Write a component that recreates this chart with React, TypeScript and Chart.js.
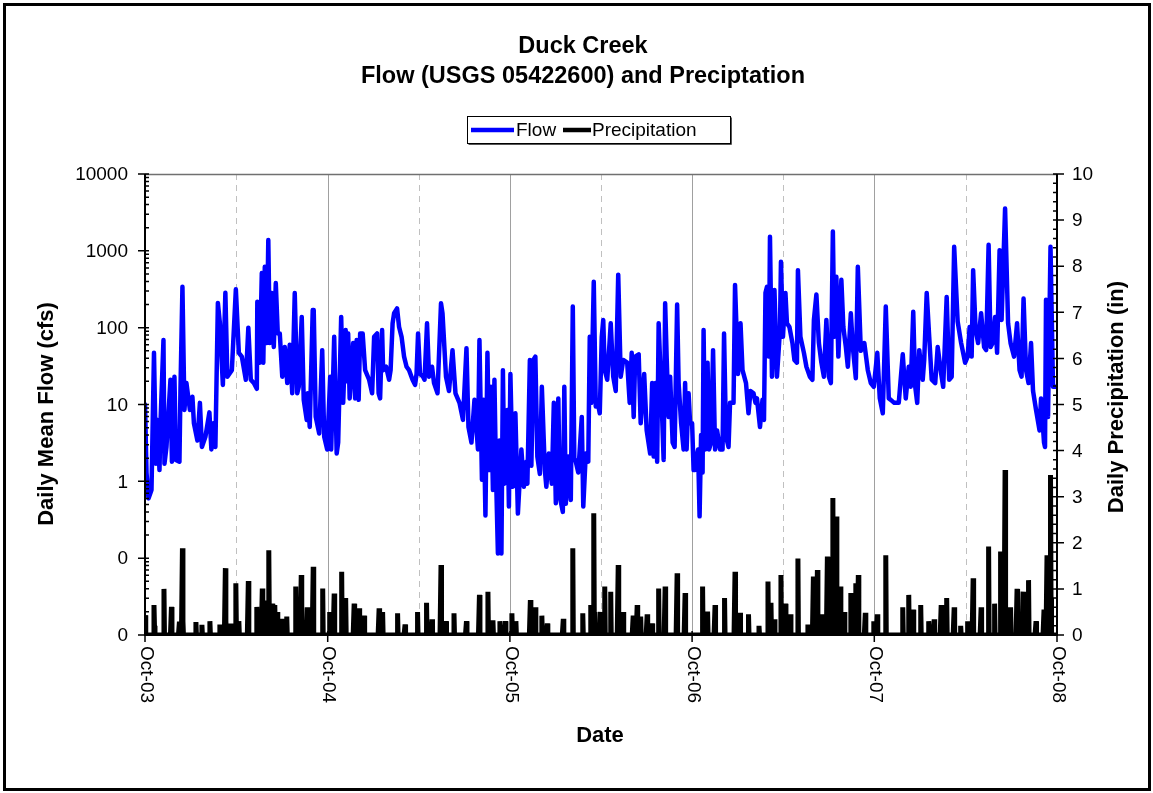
import React, { useEffect, useRef } from 'react';
import { Chart, registerables } from 'chart.js';

Chart.register(...registerables);

const W = 1153;
const H = 793;
const PLOT = { left: 145, right: 1057, top: 174, bottom: 635 };
const FONT = '"Liberation Sans", Arial, sans-serif';

const titleLines = ['Duck Creek', 'Flow (USGS 05422600) and Preciptation'];
const legendLabels = ['Flow', 'Precipitation'];
const xTitle = 'Date';
const yFlowTitle = 'Daily Mean Flow (cfs)';
const yPrecipTitle = 'Daily Precipitation (in)';

// x = days since 1 Oct 2003
const totalDays = 1827;
const yearTickDays = [0, 366, 731, 1096, 1461, 1827];
const yearTickLabels = ['Oct-03', 'Oct-04', 'Oct-05', 'Oct-06', 'Oct-07', 'Oct-08'];
const midYearDays = [183, 548, 913, 1278, 1644];
const flowTickValues = [0.01, 0.1, 1, 10, 100, 1000, 10000];
const flowTickLabels = ['0', '0', '1', '10', '100', '1000', '10000'];
const precipTickValues = [0, 1, 2, 3, 4, 5, 6, 7, 8, 9, 10];

// Daily mean flow (cfs): [day, value]
const flowWY2004: [number, number][] = [
  [0, 10], [3, 1.3], [7, 0.6], [13, 0.77], [18, 47], [22, 1.7], [25, 6.3], [29, 1.4], [31, 5.7], [37, 69],
  [39, 1.7], [43, 2.8], [51, 21], [54, 1.8], [59, 23], [62, 1.9], [69, 1.8], [71, 15], [75, 340], [79, 8.5],
  [83, 19], [90, 8.5], [95, 12.6], [98, 5.7], [105, 3.4], [110, 10.5], [114, 2.8], [121, 3.8], [129, 7.9], [133, 2.6],
  [137, 5.7], [141, 2.8], [146, 210], [150, 115], [156, 18], [161, 285], [165, 23], [174, 28], [182, 316], [188, 47],
  [194, 42], [202, 21], [207, 100], [212, 21], [218, 19], [224, 16], [225, 218], [230, 35], [234, 515], [237, 35],
  [240, 620], [244, 63], [247, 1380], [250, 63], [254, 283], [258, 56], [262, 380], [266, 84], [270, 84], [275, 23],
  [280, 56], [285, 19], [290, 60], [295, 14], [300, 283], [305, 14], [308, 17], [314, 138], [318, 11.5], [324, 6.3],
  [326, 14], [330, 5.1], [336, 170], [338, 170], [342, 6.9], [349, 4.2], [355, 51], [359, 3.8], [365, 2.6],
];
const flowWY2005: [number, number][] = [
  [371, 23], [373, 2.6], [379, 76], [384, 2.3], [387, 3.2], [393, 138], [397, 10.5], [402, 93], [405, 20], [407, 84],
  [410, 12], [417, 63], [421, 12], [424, 69], [428, 11.5], [431, 84], [436, 84], [441, 28], [449, 21], [455, 14],
  [459, 76], [465, 84], [468, 14], [471, 12], [475, 93], [477, 28], [483, 31], [489, 21], [492, 28], [496, 114],
  [499, 154], [505, 178], [509, 102], [514, 76], [519, 42], [524, 31], [529, 28], [536, 21], [541, 18], [544, 25],
  [547, 84], [551, 25], [557, 23], [560, 21], [565, 114], [569, 23], [575, 31], [579, 19], [586, 14], [593, 208],
  [596, 154], [603, 23], [609, 15], [616, 51], [622, 14], [630, 10.5], [637, 6.3], [644, 54], [648, 5.1], [654, 3.2],
  [660, 11.5], [667, 2.6], [670, 69], [675, 1.05], [678, 11.5], [682, 0.36], [686, 47], [690, 1.4], [693, 17], [697, 0.77],
  [700, 21], [703, 1.4], [707, 0.115], [710, 3.4], [714, 0.115], [717, 28], [720, 0.93], [726, 8.5], [729, 0.47],
];
const flowWY2006: [number, number][] = [
  [732, 25], [737, 0.85], [742, 7.7], [747, 0.38], [754, 2.6], [759, 0.85], [764, 1.8], [766, 0.93], [771, 38], [774, 1.6],
  [778, 38], [782, 42], [786, 2.1], [791, 1.25], [795, 17], [801, 1.4], [804, 0.85], [809, 2.3], [815, 0.93], [819, 10.5],
  [823, 0.52], [828, 12], [831, 0.63], [837, 0.4], [840, 17], [843, 0.51], [848, 2.1], [853, 0.57], [857, 188], [860, 2.0],
  [863, 1.8], [868, 1.3], [875, 6.9], [878, 0.47], [883, 2.3], [888, 1.8], [891, 76], [894, 10.5], [899, 395], [903, 9.4],
  [906, 11.5], [911, 7.7], [915, 76], [918, 126], [921, 28], [926, 21], [933, 114], [938, 23], [943, 15], [948, 490],
  [953, 23], [958, 38], [966, 35], [971, 10.5], [975, 47], [979, 6.9], [982, 42], [989, 45], [993, 5.7], [1000, 25],
  [1005, 4.6], [1012, 2.3], [1016, 19], [1019, 2.1], [1023, 19], [1026, 1.8], [1029, 114], [1036, 6.9], [1039, 1.9], [1042, 208],
  [1045, 42], [1049, 6.9], [1052, 23], [1057, 3.2], [1061, 2.8], [1066, 200], [1069, 19], [1074, 5.7], [1079, 2.6], [1082, 19],
  [1085, 2.6], [1089, 14], [1092, 5.7],
];
const flowWY2007: [number, number][] = [
  [1096, 5.7], [1099, 1.4], [1102, 1.4], [1105, 2.1], [1108, 2.6], [1111, 0.35], [1114, 4], [1117, 1.3], [1119, 93], [1122, 2.6],
  [1127, 35], [1130, 2.6], [1134, 3.2], [1138, 51], [1142, 2.6], [1146, 4.6], [1152, 2.6], [1157, 2.6], [1160, 84], [1164, 3.8],
  [1169, 2.8], [1172, 10.5], [1179, 10.5], [1182, 360], [1188, 25], [1193, 114], [1197, 28], [1204, 19], [1209, 7.7], [1213, 15],
  [1219, 14], [1223, 10.5], [1226, 12], [1232, 5.1], [1237, 11.5], [1240, 6.3], [1243, 285], [1246, 340], [1250, 42], [1252, 1520],
  [1256, 23], [1261, 310], [1266, 23], [1272, 93], [1274, 720], [1278, 76], [1283, 283], [1286, 114], [1291, 102], [1297, 63],
  [1301, 38], [1306, 35], [1308, 560], [1313, 76], [1320, 47], [1325, 31], [1332, 23], [1337, 21], [1340, 126], [1345, 270],
  [1350, 63], [1355, 35], [1360, 23], [1365, 126], [1370, 23], [1374, 19], [1378, 1780], [1381, 76], [1385, 460], [1389, 42],
  [1395, 420], [1399, 102], [1404, 56], [1408, 31], [1414, 154], [1418, 56], [1424, 22], [1428, 620], [1434, 50], [1441, 63],
  [1448, 28], [1454, 19], [1460, 17],
];
const flowWY2008: [number, number][] = [
  [1467, 47], [1472, 12], [1478, 7.7], [1484, 188], [1490, 12], [1494, 11.5], [1501, 10.5], [1510, 10.5], [1518, 45], [1524, 12],
  [1530, 31], [1534, 17], [1539, 161], [1543, 17], [1547, 10.5], [1551, 51], [1558, 21], [1561, 38], [1566, 283], [1571, 76],
  [1576, 21], [1583, 19], [1588, 56], [1595, 25], [1599, 17], [1606, 251], [1611, 21], [1616, 23], [1621, 1130], [1628, 120],
  [1635, 63], [1643, 35], [1648, 42], [1652, 102], [1656, 42], [1659, 560], [1664, 93], [1669, 63], [1675, 154], [1681, 56],
  [1685, 51], [1690, 1200], [1694, 56], [1698, 63], [1703, 138], [1707, 47], [1712, 1020], [1716, 126], [1723, 3560], [1729, 114],
  [1734, 63], [1741, 42], [1747, 114], [1752, 28], [1756, 23], [1760, 240], [1765, 28], [1770, 19], [1775, 63], [1779, 15],
  [1785, 8.5], [1792, 4.6], [1795, 12], [1801, 3.2], [1803, 2.8], [1805, 230], [1809, 6.9], [1814, 1130], [1819, 17], [1826, 17],
];

// Daily precipitation (in) on rain days: [day, value]; other days are 0
const precipWY2004: [number, number][] = [
  [0, 0.43], [1, 0.15], [18, 0.65], [19, 0.2], [38, 1.0], [53, 0.61], [69, 0.29], [75, 1.88], [76, 0.3], [102, 0.28],
  [114, 0.22], [130, 0.3], [150, 0.23], [161, 1.45], [162, 0.3], [172, 0.25], [182, 1.12], [183, 0.2], [188, 0.3], [207, 1.17],
  [224, 0.61], [235, 1.01], [240, 0.75], [248, 1.84], [249, 0.4], [250, 0.3], [255, 0.68], [260, 0.65], [265, 0.5], [273, 0.35],
  [284, 0.4], [302, 1.05], [313, 1.3], [325, 0.6], [337, 1.48], [356, 1.01],
];
const precipWY2005: [number, number][] = [
  [370, 0.5], [379, 0.9], [394, 1.37], [402, 0.8], [419, 0.68], [429, 0.58], [439, 0.42], [469, 0.58], [476, 0.5], [506, 0.47],
  [521, 0.23], [546, 0.5], [564, 0.7], [575, 0.34], [593, 1.52], [603, 0.3], [619, 0.47], [644, 0.3], [670, 0.87], [687, 0.94],
  [697, 0.32], [711, 0.3], [722, 0.3],
];
const precipWY2006: [number, number][] = [
  [735, 0.47], [743, 0.3], [772, 0.76], [782, 0.6], [795, 0.42], [806, 0.25], [838, 0.35], [857, 1.88], [877, 0.47], [893, 0.65],
  [899, 2.64], [900, 0.5], [912, 0.5], [921, 1.05], [933, 0.94], [948, 1.52], [958, 0.5], [978, 0.42], [986, 0.65], [993, 0.4],
  [1006, 0.45], [1016, 0.25], [1029, 1.01], [1042, 1.05], [1066, 1.34], [1082, 0.91],
];
const precipWY2007: [number, number][] = [
  [1117, 1.05], [1127, 0.51], [1142, 0.65], [1161, 0.8], [1182, 1.37], [1192, 0.48], [1209, 0.45], [1230, 0.2], [1248, 1.16], [1254, 0.7],
  [1261, 0.34], [1274, 1.3], [1283, 0.68], [1293, 0.45], [1308, 1.66], [1328, 0.23], [1339, 1.27], [1347, 1.41], [1355, 0.45], [1367, 1.7],
  [1378, 2.97], [1385, 2.57], [1393, 1.05], [1401, 0.5], [1414, 0.91], [1424, 1.12], [1429, 1.3], [1443, 0.48], [1460, 0.3],
];
const precipWY2008: [number, number][] = [
  [1467, 0.45], [1484, 1.73], [1518, 0.6], [1530, 0.87], [1539, 0.55], [1554, 0.65], [1570, 0.3], [1581, 0.34], [1595, 0.65], [1606, 0.8],
  [1621, 0.6], [1634, 0.2], [1648, 0.3], [1659, 1.23], [1675, 0.6], [1690, 1.92], [1702, 0.68], [1714, 1.81], [1723, 3.58], [1724, 0.5],
  [1734, 0.6], [1747, 1.0], [1759, 0.94], [1770, 1.19], [1785, 0.3], [1801, 0.55], [1807, 1.73], [1813, 1.6], [1814, 3.47], [1815, 0.8],
];

const flowSeries = [...flowWY2004, ...flowWY2005, ...flowWY2006, ...flowWY2007, ...flowWY2008];
const precipEvents = [...precipWY2004, ...precipWY2005, ...precipWY2006, ...precipWY2007, ...precipWY2008];

function buildPrecipDaily() {
  const byDay = new Map<number, number>();
  precipEvents.forEach(([d, v]) => byDay.set(d, v));
  const out: { x: number; y: number }[] = [];
  for (let d = 0; d <= totalDays; d++) out.push({ x: d, y: byDay.get(d) ?? 0 });
  return out;
}

const decorPlugin = {
  id: 'decor',
  beforeDraw(chart: any) {
    const ctx = chart.ctx as CanvasRenderingContext2D;
    ctx.save();
    ctx.fillStyle = '#ffffff';
    ctx.fillRect(0, 0, W, H);
    ctx.restore();
  },
  beforeDatasetsDraw(chart: any) {
    const ctx = chart.ctx as CanvasRenderingContext2D;
    const xs = chart.scales.x;
    const { top, bottom, left, right } = chart.chartArea;
    ctx.save();
    ctx.lineWidth = 1;
    ctx.strokeStyle = '#c0c0c0';
    ctx.setLineDash([6, 5]);
    midYearDays.forEach((d) => {
      const x = Math.round(xs.getPixelForValue(d)) + 0.5;
      ctx.beginPath();
      ctx.moveTo(x, top);
      ctx.lineTo(x, bottom);
      ctx.stroke();
    });
    ctx.setLineDash([]);
    ctx.strokeStyle = '#a0a0a0';
    yearTickDays.slice(1, -1).forEach((d) => {
      const x = Math.round(xs.getPixelForValue(d)) + 0.5;
      ctx.beginPath();
      ctx.moveTo(x, top);
      ctx.lineTo(x, bottom);
      ctx.stroke();
    });
    ctx.strokeStyle = '#707070';
    ctx.lineWidth = 1.5;
    ctx.beginPath();
    ctx.moveTo(left, top + 0.5);
    ctx.lineTo(right, top + 0.5);
    ctx.stroke();
    ctx.restore();
  },
  afterDatasetsDraw(chart: any) {
    const ctx = chart.ctx as CanvasRenderingContext2D;
    const xs = chart.scales.x;
    const yf = chart.scales.yFlow;
    const yp = chart.scales.yPrecip;
    const { top, bottom, left, right } = chart.chartArea;
    ctx.save();

    // axes
    ctx.strokeStyle = '#000';
    ctx.lineWidth = 2;
    ctx.beginPath();
    ctx.moveTo(left, top);
    ctx.lineTo(left, bottom + 1);
    ctx.moveTo(right, top);
    ctx.lineTo(right, bottom + 1);
    ctx.moveTo(left - 1, bottom);
    ctx.lineTo(right + 1, bottom);
    ctx.stroke();

    // left ticks
    ctx.lineWidth = 1.5;
    ctx.beginPath();
    flowTickValues.forEach((v) => {
      const y = yf.getPixelForValue(v);
      ctx.moveTo(left - 7, y);
      ctx.lineTo(left + 4, y);
    });
    for (let e = -2; e < 4; e++) {
      for (let k = 2; k <= 9; k++) {
        const y = yf.getPixelForValue(k * Math.pow(10, e));
        ctx.moveTo(left, y);
        ctx.lineTo(left + 4, y);
      }
    }
    // right ticks
    precipTickValues.forEach((v) => {
      const y = yp.getPixelForValue(v);
      ctx.moveTo(right - 4, y);
      ctx.lineTo(right + 7, y);
    });
    for (let i = 0; i < 50; i++) {
      if (i % 5 === 0) continue;
      const y = yp.getPixelForValue(i * 0.2);
      ctx.moveTo(right - 4, y);
      ctx.lineTo(right, y);
    }
    // x ticks
    yearTickDays.forEach((d) => {
      const x = xs.getPixelForValue(d);
      ctx.moveTo(x, bottom - 4);
      ctx.lineTo(x, bottom + 7);
    });
    ctx.stroke();

    // tick labels
    ctx.fillStyle = '#000';
    ctx.font = `19px ${FONT}`;
    ctx.textBaseline = 'middle';
    ctx.textAlign = 'right';
    flowTickValues.forEach((v, i) => {
      ctx.fillText(flowTickLabels[i], left - 17, yf.getPixelForValue(v) + 1);
    });
    ctx.textAlign = 'left';
    precipTickValues.forEach((v) => {
      ctx.fillText(String(v), right + 15, yp.getPixelForValue(v) + 1);
    });
    yearTickDays.forEach((d, i) => {
      const x = xs.getPixelForValue(d);
      ctx.save();
      ctx.translate(x + 1, bottom + 11);
      ctx.rotate(Math.PI / 2);
      ctx.textAlign = 'left';
      ctx.textBaseline = 'middle';
      ctx.fillText(yearTickLabels[i], 0, 0);
      ctx.restore();
    });

    // axis titles
    ctx.font = `bold 22px ${FONT}`;
    ctx.textAlign = 'center';
    ctx.textBaseline = 'middle';
    ctx.fillText(xTitle, 600, 736);
    ctx.save();
    ctx.translate(47, 414);
    ctx.rotate(-Math.PI / 2);
    ctx.fillText(yFlowTitle, 0, 0);
    ctx.restore();
    ctx.save();
    ctx.translate(1117, 397);
    ctx.rotate(-Math.PI / 2);
    ctx.fillText(yPrecipTitle, 0, 0);
    ctx.restore();

    // title
    ctx.font = `bold 23.5px ${FONT}`;
    ctx.fillText(titleLines[0], 583, 47);
    ctx.fillText(titleLines[1], 583, 77);

    // legend
    const lx = 467, ly = 116, lw = 263, lh = 27;
    ctx.fillStyle = '#fff';
    ctx.fillRect(lx, ly, lw, lh);
    ctx.strokeStyle = '#000';
    ctx.lineWidth = 1;
    ctx.strokeRect(lx + 0.5, ly + 0.5, lw, lh);
    ctx.strokeStyle = '#555';
    ctx.beginPath();
    ctx.moveTo(lx + 1.5, ly + lh + 1.5);
    ctx.lineTo(lx + lw + 1.5, ly + lh + 1.5);
    ctx.lineTo(lx + lw + 1.5, ly + 1.5);
    ctx.stroke();
    const cy = ly + lh / 2 + 0.5;
    ctx.lineWidth = 4.5;
    ctx.strokeStyle = '#0000ff';
    ctx.beginPath();
    ctx.moveTo(lx + 4, cy);
    ctx.lineTo(lx + 47, cy);
    ctx.stroke();
    ctx.strokeStyle = '#000';
    ctx.beginPath();
    ctx.moveTo(lx + 96, cy);
    ctx.lineTo(lx + 124, cy);
    ctx.stroke();
    ctx.fillStyle = '#000';
    ctx.font = `19px ${FONT}`;
    ctx.textAlign = 'left';
    ctx.fillText(legendLabels[0], lx + 49, cy + 1);
    ctx.fillText(legendLabels[1], lx + 125, cy + 1);

    // outer border
    ctx.strokeStyle = '#000';
    ctx.lineWidth = 3;
    ctx.strokeRect(4.5, 4.5, W - 8, H - 8);
    ctx.restore();
  },
};

export default function App() {
  const ref = useRef<HTMLCanvasElement>(null);
  useEffect(() => {
    document.body.style.margin = '0';
    const canvas = ref.current;
    if (!canvas) return;
    const chart = new Chart(canvas, {
      type: 'line',
      data: {
        datasets: [
          {
            label: legendLabels[0],
            data: flowSeries.map(([x, y]) => ({ x, y })),
            yAxisID: 'yFlow',
            xAxisID: 'x',
            borderColor: '#0000ff',
            backgroundColor: '#0000ff',
            borderWidth: 4.5,
            pointRadius: 0,
            tension: 0,
            borderJoinStyle: 'round',
            borderCapStyle: 'round',
            order: 1,
          },
          {
            label: legendLabels[1],
            data: buildPrecipDaily(),
            yAxisID: 'yPrecip',
            xAxisID: 'x',
            borderColor: '#000000',
            backgroundColor: '#000000',
            borderWidth: 5,
            pointRadius: 0,
            tension: 0,
            borderJoinStyle: 'miter',
            order: 0,
          },
        ],
      },
      options: {
        responsive: false,
        animation: false,
        events: [],
        layout: { padding: { top: PLOT.top, left: 0, right: 0, bottom: 0 } },
        plugins: {
          legend: { display: false },
          tooltip: { enabled: false },
          title: { display: false },
        },
        scales: {
          x: {
            type: 'linear',
            min: 0,
            max: totalDays,
            ticks: { display: false },
            grid: { display: false },
            border: { display: false },
            afterFit: (s: any) => { s.height = H - PLOT.bottom; },
          },
          yFlow: {
            type: 'logarithmic',
            position: 'left',
            min: 0.01,
            max: 10000,
            ticks: { display: false },
            grid: { display: false },
            border: { display: false },
            afterFit: (s: any) => { s.width = PLOT.left; },
          },
          yPrecip: {
            type: 'linear',
            position: 'right',
            min: 0,
            max: 10,
            ticks: { display: false },
            grid: { display: false },
            border: { display: false },
            afterFit: (s: any) => { s.width = W - PLOT.right; },
          },
        },
      } as any,
      plugins: [decorPlugin],
    });
    return () => chart.destroy();
  }, []);
  return <canvas ref={ref} width={W} height={H} style={{ display: 'block', width: W, height: H }} />;
}
